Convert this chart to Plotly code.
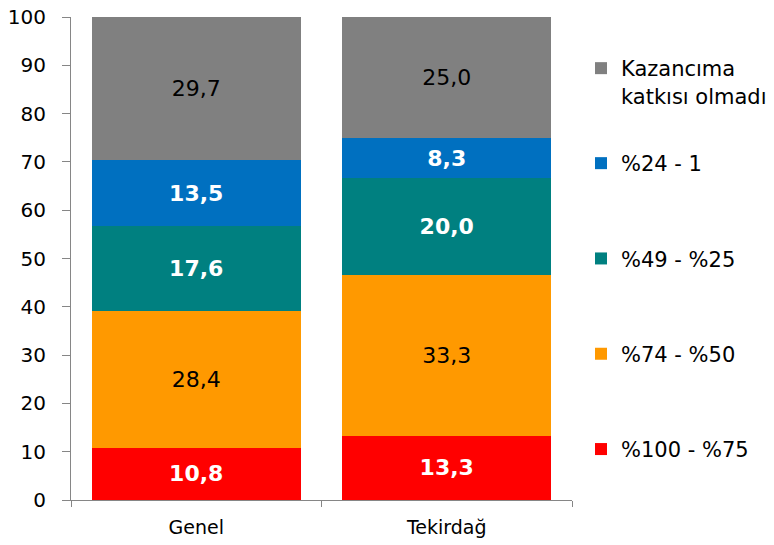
import plotly.graph_objects as go

categories = ["Genel", "Tekirdağ"]
series_names = ["%100 - %75", "%74 - %50", "%49 - %25", "%24 - 1", "Kazancıma<br>katkısı olmadı"]
series_values = [
    [10.8, 13.3],
    [28.4, 33.3],
    [17.6, 20.0],
    [13.5, 8.3],
    [29.7, 25.0],
]
colors = ["#FF0000", "#FF9900", "#008080", "#0070C0", "#808080"]
label_colors = ["white", "black", "white", "white", "black"]
label_bold = [True, False, True, True, False]
y_ticks = [0, 10, 20, 30, 40, 50, 60, 70, 80, 90, 100]

FONT = "DejaVu Sans"

fig = go.Figure()
n = len(series_names)
for i, (name, vals, col, lc, b) in enumerate(zip(series_names, series_values, colors, label_colors, label_bold)):
    fig.add_trace(go.Bar(
        x=categories, y=vals, name=name, marker=dict(color=col, line=dict(width=0)),
        texttemplate=("<b>%{y:.1f}</b>" if b else "%{y:.1f}"),
        textposition="inside", insidetextanchor="middle",
        textfont=dict(color=lc, size=22, family=FONT),
        legendgroup=name, legendrank=n - i,
        legend=("legend2" if i == n - 1 else "legend"),
    ))

L, R, T, B = 71, 572, 17, 500
LEG_X = (581 - L) / (R - L)
fig.update_layout(
    barmode="stack", bargap=0.165,
    width=774, height=545,
    margin=dict(l=L, r=774 - R, t=T, b=545 - B, autoexpand=False),
    plot_bgcolor="white", paper_bgcolor="white",
    separators=",.",
    font=dict(family=FONT, color="black"),
    legend=dict(
        x=LEG_X, y=(B - 143) / (B - T), xanchor="left", yanchor="top",
        traceorder="grouped", tracegroupgap=65,
        font=dict(size=21, family=FONT), valign="top",
    ),
    legend2=dict(
        x=LEG_X, y=(B - 48) / (B - T), xanchor="left", yanchor="top",
        font=dict(size=21, family=FONT), valign="top",
    ),
    showlegend=True,
)
fig.update_yaxes(
    range=[0, 100], tickvals=y_ticks, showgrid=False, zeroline=False,
    showline=True, linecolor="#868686", linewidth=1,
    ticks="outside", ticklen=8, tickcolor="#868686",
    tickfont=dict(size=20, family=FONT), automargin=False,
    ticklabelstandoff=12,
)
fig.update_xaxes(
    range=[-0.5, 1.5], showgrid=False, showline=True, linecolor="#868686", linewidth=1,
    ticks="outside", ticklen=6, tickcolor="#868686", tickson="boundaries",
    tickfont=dict(size=19, family=FONT), automargin=False,
    ticklabelstandoff=10,
)

fig.write_html("out.html", config={"displayModeBar": False},
               post_script="document.body.style.margin='0';")
